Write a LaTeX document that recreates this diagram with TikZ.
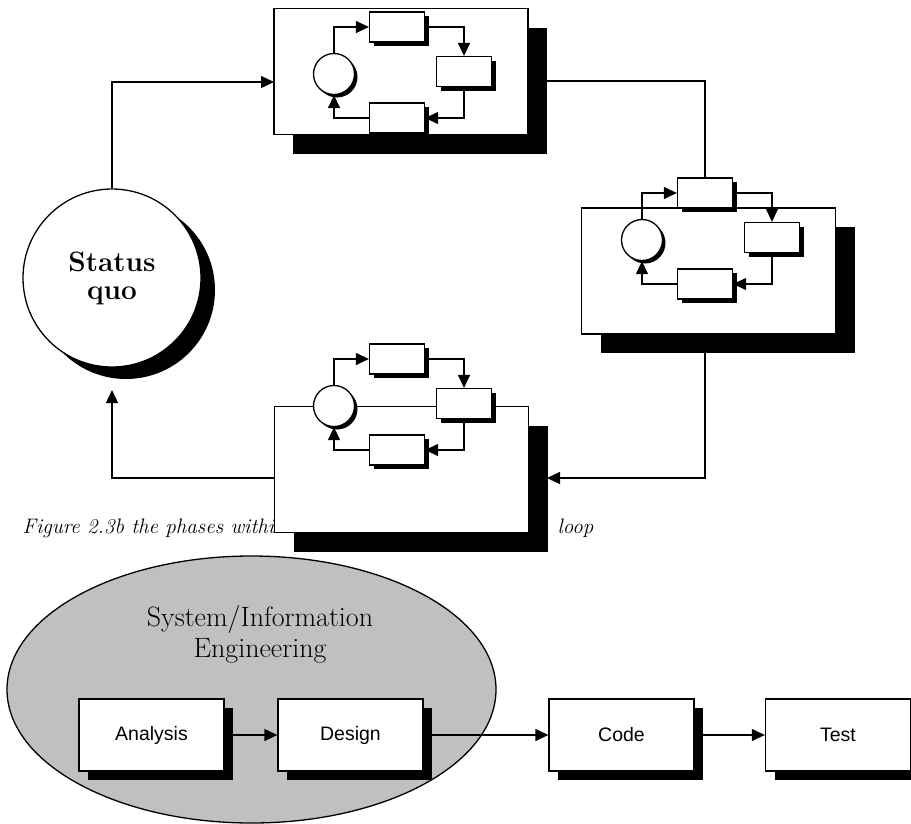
\documentclass[tikz,border=0pt]{standalone}
\usepackage{fontspec}
\newfontfamily\arialfont{Liberation Sans}
\usetikzlibrary{arrows.meta,shadows,calc,shapes.geometric}
\definecolor{ovalgrey}{HTML}{C0C0C0}

% one phase: a small circle and three small boxes joined in a loop
\newcommand\innerloop[2]{%
  \node[smallcirc] (#1c) at #2 {};
  \node[smallbox] (#1b1) at ($(#1c)+(63,-47)$) {};
  \node[smallbox] (#1b2) at ($(#1c)+(130,-2.5)$) {};
  \node[smallbox] (#1b3) at ($(#1c)+(63,44)$) {};
  \draw[arr] (#1c.north) |- (#1b1.west);
  \draw[arr] (#1b1.east) -| (#1b2.north);
  \draw[arr] (#1b2.south) |- (#1b3.east);
  \draw[arr] (#1b3.west) -| (#1c.south);
}

\begin{document}
\begin{tikzpicture}[x=1pt,y=-1pt,line width=1.3pt,
  arr/.style={-{Triangle[length=13pt,width=12pt]}},
  bigbox/.style={draw,fill=white,minimum width=254pt,minimum height=126pt,inner sep=0pt,
    line width=1.5pt,
    general shadow={fill=black,shadow xshift=19pt,shadow yshift=-19pt}},
  smallbox/.style={draw,fill=white,minimum width=55pt,minimum height=30pt,inner sep=0pt,
    general shadow={fill=black,shadow xshift=4pt,shadow yshift=-4pt}},
  smallcirc/.style={draw,fill=white,circle,minimum size=41pt,inner sep=0pt,
    general shadow={fill=black,shadow xshift=3pt,shadow yshift=-3pt}},
  phase/.style={draw,fill=white,minimum width=145pt,minimum height=72pt,inner sep=0pt,
    font=\arialfont\fontsize{19.5}{22}\selectfont,
    general shadow={fill=black,shadow xshift=9pt,shadow yshift=-9pt}},
  captxt/.style={anchor=base west,inner sep=0pt,font=\itshape\fontsize{21}{24}\selectfont},
]
\useasboundingbox (0,0) rectangle (911,823);

% status quo
\node[draw,fill=white,circle,minimum size=178pt,inner sep=0pt,align=center,
  font=\bfseries\fontsize{28}{28}\selectfont,
  general shadow={fill=black,shadow xshift=14pt,shadow yshift=-12pt}]
  (sq) at (112,278) {Status\\quo};

% first phase
\node[bigbox] (T) at (401,71.5) {};
\innerloop{T}{(334,74)}

% second phase
\node[bigbox] (M) at (708.5,271) {};
\innerloop{M}{(642,240)}

% caption, partly covered by the third phase
\node[captxt] (cap1) at (22,533) {Figure 2.3b the phases within};
\node[captxt] (cap2) at (557,533) {loop};

% third phase
\node[bigbox] (B) at (401.5,469.5) {};
\innerloop{B}{(334,406)}

% connectors between the phases
\coordinate (tin) at (274,82);
\coordinate (tout) at (528,81);
\coordinate (mout) at (Mb1 |- M.south);
\coordinate (bin) at (547,478);
\coordinate (bout) at (275,478);
\coordinate (sqin) at (112,390);
\draw[arr] (sq.north) |- (tin);
\draw (tout) -| (Mb1.north);
\draw[arr] (mout) |- (bin);
\draw[arr] (bout) -| (sqin);

% lower diagram
\node[draw,fill=ovalgrey,ellipse,minimum width=489pt,minimum height=267pt,inner sep=0pt]
  (E) at (251.5,689.5) {};
\node[anchor=base,font=\fontsize{28}{30}\selectfont] (et1) at (260,626) {System/Information};
\node[anchor=base,font=\fontsize{28}{30}\selectfont] (et2) at (260,657) {Engineering};

\node[phase] (an) at (151.5,735) {Analysis};
\node[phase] (de) at (350.5,735) {Design};
\node[phase] (co) at (621.5,735) {Code};
\node[phase] (te) at (838,735) {Test};
\draw[arr] (an) -- (de);
\draw[arr] (de) -- (co);
\draw[arr] (co) -- (te);
\end{tikzpicture}
\end{document}
